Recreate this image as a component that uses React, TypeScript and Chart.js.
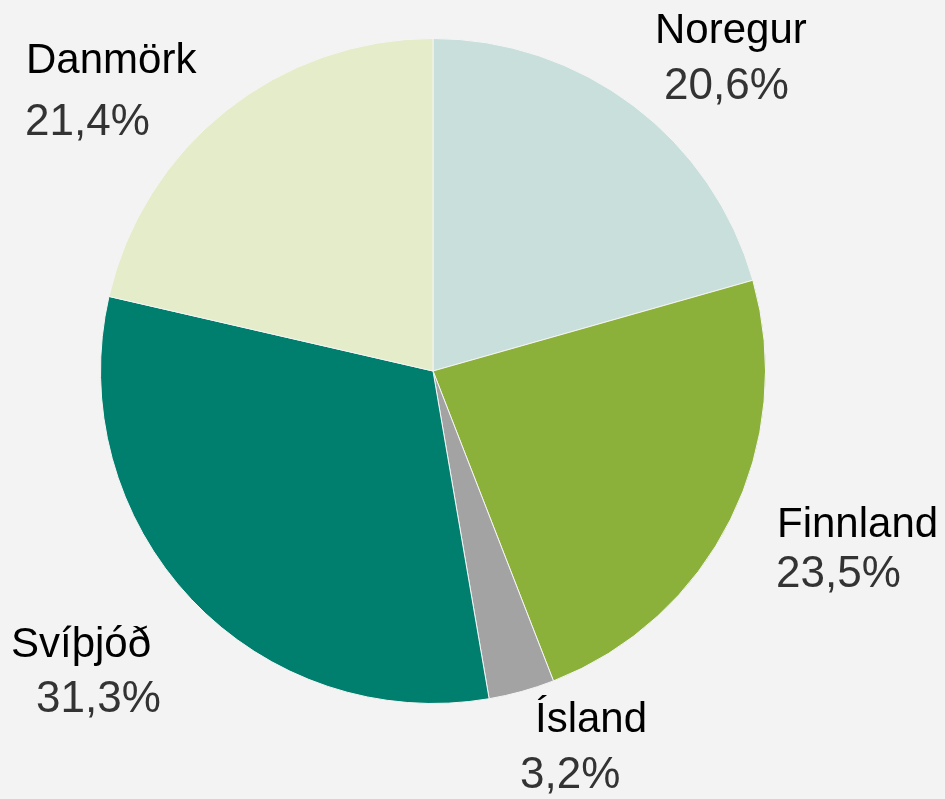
import React, { useEffect, useRef } from "react";
import { Chart, registerables } from "chart.js";

Chart.register(...registerables);

const countries = ["Noregur", "Finnland", "Ísland", "Svíþjóð", "Danmörk"];
const shares = [20.6, 23.5, 3.2, 31.3, 21.4];
const sliceColors = ["#c9dfdc", "#8cb13a", "#a3a3a3", "#007f6e", "#e5ecc9"];

// label anchors: [nameX, nameBaseline, pctX, pctBaseline]
const labelAnchors: number[][] = [
  [655, 43, 664, 99],
  [777, 537, 776, 587],
  [535, 732, 520, 788],
  [11, 657, 36, 712],
  [26, 73, 25, 135],
];

const fmt = (v: number) => v.toFixed(1).replace(".", ",") + "%";

const labelPlugin = {
  id: "sliceLabels",
  afterDatasetsDraw(chart: any) {
    const ctx = chart.ctx;
    ctx.save();
    ctx.textAlign = "left";
    ctx.textBaseline = "alphabetic";
    countries.forEach((name, i) => {
      const a = labelAnchors[i];
      ctx.font = '42px "Liberation Sans", Arial, sans-serif';
      ctx.fillStyle = "#000000";
      ctx.fillText(name, a[0], a[1]);
      ctx.font = '44px "Liberation Sans", Arial, sans-serif';
      ctx.fillStyle = "#333333";
      ctx.fillText(fmt(shares[i]), a[2], a[3]);
    });
    ctx.restore();
  },
};

export default function App() {
  const ref = useRef<HTMLCanvasElement>(null);
  useEffect(() => {
    if (!ref.current) return;
    const chart = new Chart(ref.current, {
      type: "pie",
      data: {
        labels: countries,
        datasets: [
          {
            data: shares,
            backgroundColor: sliceColors,
            borderColor: "#f4f4f4",
            borderWidth: 1,
          },
        ],
      },
      options: {
        responsive: false,
        animation: false,
        layout: { padding: { left: 100, right: 179, top: 38, bottom: 95 } },
        plugins: {
          legend: { display: false },
          tooltip: { enabled: false },
        },
      },
      plugins: [labelPlugin],
    });
    return () => chart.destroy();
  }, []);
  return (
    <div
      style={{
        position: "fixed",
        left: 0,
        top: 0,
        width: 945,
        height: 799,
        background: "#f3f3f3",
      }}
    >
      <canvas ref={ref} width={945} height={799} style={{ display: "block" }} />
    </div>
  );
}
